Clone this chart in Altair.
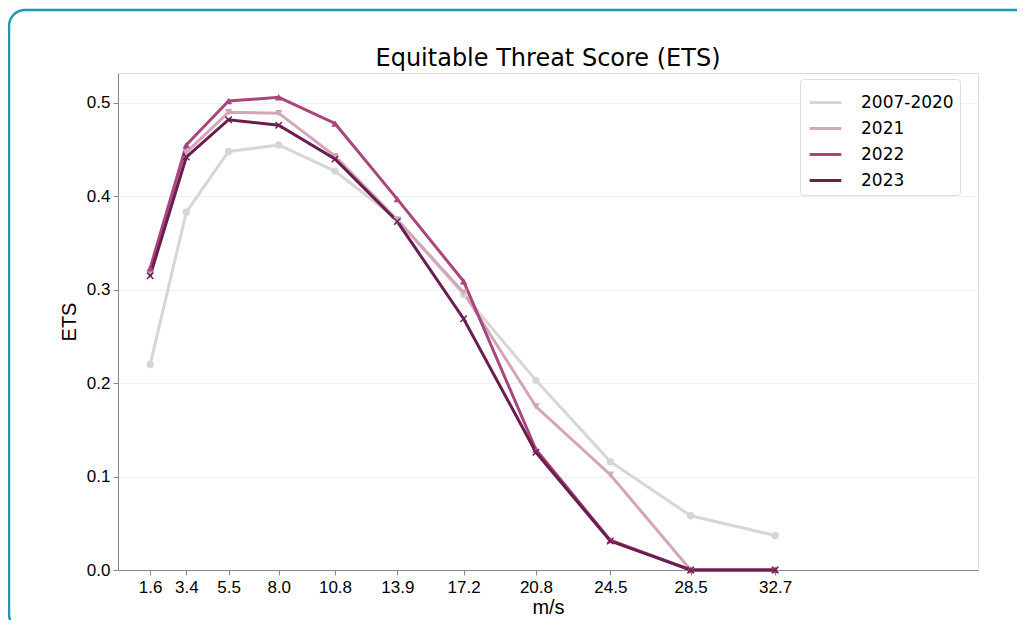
import altair as alt
import pandas as pd

speeds = [1.6, 3.4, 5.5, 8.0, 10.8, 13.9, 17.2, 20.8, 24.5, 28.5, 32.7]
series_names = ["2007-2020", "2021", "2022", "2023"]
ets_2007_2020 = [0.220, 0.383, 0.448, 0.455, 0.427, 0.375, 0.295, 0.203, 0.116, 0.058, 0.037]
ets_2021 = [0.318, 0.447, 0.490, 0.489, 0.443, 0.375, 0.297, 0.175, 0.102, 0.0, 0.0]
ets_2022 = [0.323, 0.455, 0.502, 0.506, 0.478, 0.397, 0.309, 0.129, 0.032, 0.0, 0.0]
ets_2023 = [0.315, 0.442, 0.482, 0.476, 0.440, 0.373, 0.269, 0.126, 0.031, 0.0, 0.0]
colors = ["#d6d6d6", "#d4a5b9", "#a8467d", "#6b1d50"]
title_text = "Equitable Threat Score (ETS)"

x_shape = "M-0.75,-1L0,-0.3L0.75,-1L1,-0.75L0.3,0L1,0.75L0.75,1L0,0.3L-0.75,1L-1,0.75L-0.3,0L-1,-0.75Z"
shapes = ["circle", "triangle-down", "triangle-up", x_shape]

rows = []
for name, vals in zip(series_names, [ets_2007_2020, ets_2021, ets_2022, ets_2023]):
    for s, v in zip(speeds, vals):
        rows.append({"speed": s, "ETS": v, "series": name})
df = pd.DataFrame(rows)

font = "DejaVu Sans"

x_enc = alt.X("speed:Q", title="m/s",
              scale=alt.Scale(domain=[0, 42.8], nice=False, zero=False),
              axis=alt.Axis(values=speeds, format=".1f", grid=False, tickSize=5,
                            labelFontSize=17, titleFontSize=20, labelPadding=4,
                            titlePadding=2, labelFlush=False, labelOverlap=False,
                            titleFontWeight="normal"))
y_enc = alt.Y("ETS:Q", title="ETS",
              scale=alt.Scale(domain=[0, 0.532], nice=False),
              axis=alt.Axis(values=[0, 0.1, 0.2, 0.3, 0.4, 0.5], format=".1f", grid=True,
                            gridColor="#f0f0f0", tickSize=5, labelFontSize=17,
                            titleFontSize=20, labelPadding=3, titlePadding=7,
                            titleFontWeight="normal"))
color_enc = alt.Color("series:N", scale=alt.Scale(domain=series_names, range=colors),
                      legend=alt.Legend(title=None, orient="none", legendX=682, legendY=6,
                                        symbolType="stroke", symbolStrokeWidth=3,
                                        symbolSize=1000, labelFontSize=17, rowPadding=-1,
                                        padding=6, fillColor="white", labelOffset=18,
                                        symbolOffset=2,
                                        strokeColor="#dddddd", cornerRadius=3,
                                        labelFont=font, labelColor="black"))

lines = alt.Chart(df).mark_line(strokeWidth=3).encode(
    x=x_enc, y=y_enc, color=color_enc, order="speed:Q")

point_layers = []
for name, col, shp in zip(series_names, colors, shapes):
    point_layers.append(
        alt.Chart(df).transform_filter(alt.datum.series == name)
        .mark_point(filled=True, size=55, opacity=1, color=col, shape=shp)
        .encode(x="speed:Q", y="ETS:Q")
    )

border = alt.Chart(pd.DataFrame({"a": [0]})).mark_rect(
    fill=None, stroke="#1a9bb0", strokeWidth=2.5, cornerRadius=16).encode(
    x=alt.value(-109), x2=alt.value(1000), y=alt.value(-63), y2=alt.value(557))

title = alt.Chart(pd.DataFrame({"t": [title_text]})).mark_text(
    font=font, fontSize=24, color="black", baseline="middle", align="center").encode(
    text="t:N", x=alt.value(430), y=alt.value(-14))

chart = alt.layer(border, lines, *point_layers, title).properties(
    width=860, height=497,
    autosize=alt.AutoSizeParams(type="none"),
    padding={"left": 110, "top": 65, "right": 39, "bottom": 50},
).configure_view(stroke="#777777", strokeWidth=1.2).configure_axis(
    labelFont=font, titleFont=font, labelColor="black", titleColor="black",
    titleFontWeight="normal", domainColor="#777777", tickColor="#555555"
).configure(background="white")

chart.save("out.html", embed_options={"renderer": "svg", "actions": False})
